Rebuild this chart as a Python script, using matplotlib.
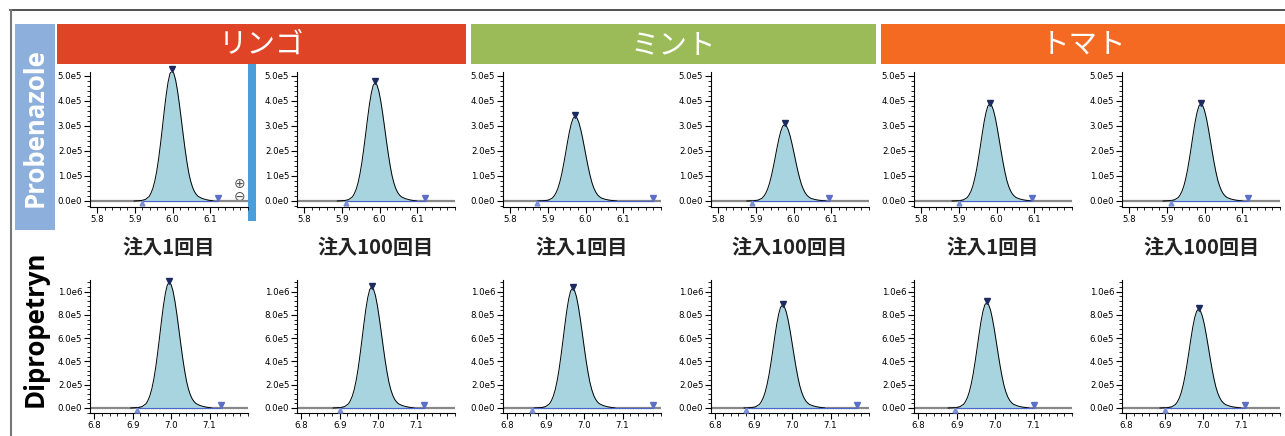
import matplotlib
matplotlib.use("Agg")
import matplotlib.pyplot as plt
from matplotlib.patches import Rectangle
from matplotlib.ticker import MultipleLocator, FuncFormatter

W, H = 1285, 436

# --- data ---
matrices = ["リンゴ", "ミント", "トマト"]
matrix_colors = ["#E04427", "#9BBB59", "#F46A22"]
injections = ["注入1回目", "注入100回目"]
compounds = ["Probenazole", "Dipropetryn"]

# peak profile shared by all panels (offset from apex in min, relative intensity)
profile_offset = [-0.10, -0.08, -0.07, -0.06, -0.055, -0.05, -0.045, -0.04, -0.035, -0.03,
                  -0.025, -0.02, -0.015, -0.01, -0.005, 0.0, 0.005, 0.01, 0.015, 0.02,
                  0.025, 0.03, 0.035, 0.04, 0.045, 0.05, 0.055, 0.06, 0.065, 0.07,
                  0.08, 0.09, 0.10, 0.11]
profile_rel = [0.0, 0.004, 0.012, 0.035, 0.062, 0.10, 0.155, 0.23, 0.325, 0.44,
               0.565, 0.695, 0.815, 0.912, 0.978, 1.0, 0.982, 0.93, 0.848, 0.745,
               0.63, 0.512, 0.4, 0.3, 0.215, 0.152, 0.105, 0.072, 0.05, 0.035,
               0.02, 0.011, 0.005, 0.0]

# Probenazole (row 1): apex rt, apex height, integration start / end
probenazole_apex = [5.998, 5.988, 5.972, 5.976, 5.982, 5.990]
probenazole_height = [5.2e5, 4.72e5, 3.38e5, 3.05e5, 3.88e5, 3.88e5]
probenazole_start = [5.92, 5.91, 5.87, 5.89, 5.90, 5.91]
probenazole_end = [6.12, 6.12, 6.18, 6.095, 6.095, 6.115]

# Dipropetryn (row 2)
dipropetryn_apex = [6.995, 6.983, 6.970, 6.975, 6.978, 6.988]
dipropetryn_height = [1.08e6, 1.04e6, 1.03e6, 0.885e6, 0.905e6, 0.85e6]
dipropetryn_start = [6.91, 6.90, 6.865, 6.88, 6.895, 6.90]
dipropetryn_end = [7.13, 7.12, 7.18, 7.17, 7.10, 7.11]

rows = [
    dict(apex=probenazole_apex, height=probenazole_height, start=probenazole_start,
         end=probenazole_end, xlim=(5.781, 6.2), ylim=(-2.4e4, 5.15e5),
         xticks=[5.8, 5.9, 6.0, 6.1], ymaj=1e5, ymin=2e4, top=72, bottom=207),
    dict(apex=dipropetryn_apex, height=dipropetryn_height, start=dipropetryn_start,
         end=dipropetryn_end, xlim=(6.789, 7.2), ylim=(-4.3e4, 1.1e6),
         xticks=[6.8, 6.9, 7.0, 7.1], ymaj=2e5, ymin=4e4, top=280, bottom=413),
]

col_left = [90, 297, 503, 711, 914, 1122]
col_width = 158


def sci(v, pos):
    if abs(v) < 1e-9:
        return "0.0e0"
    e = len(str(int(abs(v)))) - 1
    return f"{v / 10 ** e:.1f}e{e}"


def box(x0, y0, x1, y1):
    return [x0 / W, 1 - y1 / H, (x1 - x0) / W, (y1 - y0) / H]


fig = plt.figure(figsize=(W / 100, H / 100), dpi=100)

# background layer in pixel coordinates
bg = fig.add_axes([0, 0, 1, 1])
bg.set_xlim(0, W)
bg.set_ylim(H, 0)
bg.axis("off")

bg.plot([10, W], [10.5, 10.5], color="#333333", lw=1.2)
bg.plot([10.5, 10.5], [10, H], color="#777777", lw=1.5)

bar_x = [(57, 466), (471, 876), (881, 1285)]
for (x0, x1), name, c in zip(bar_x, matrices, matrix_colors):
    bg.add_patch(Rectangle((x0, 24), x1 - x0, 40, color=c, lw=0))
    bg.text((x0 + x1) / 2, 45, name, color="white", fontsize=20.5,
            family=["Noto Sans CJK JP", "DejaVu Sans"], ha="center", va="center")

bg.add_patch(Rectangle((15, 24), 40, 206, color="#8DAFDC", lw=0))
bg.text(35, 128, compounds[0], color="white", fontsize=18.5, family="Open Sans",
        weight="bold", rotation=90, ha="center", va="center")
bg.text(35, 329, compounds[1], color="black", fontsize=18.5, family="Open Sans",
        weight="bold", rotation=90, ha="center", va="center")

for i, left in enumerate(col_left):
    bg.text(left + col_width / 2, 247, injections[i % 2], fontsize=14.5, color="#222222",
            family=["Noto Sans CJK JP", "DejaVu Sans"], weight="bold",
            ha="center", va="center")

for r, row in enumerate(rows):
    for i, left in enumerate(col_left):
        ax = fig.add_axes(box(left, row["top"], left + col_width, row["bottom"]))
        apex = row["apex"][i]
        h = row["height"][i]
        x0, x1 = row["xlim"]
        xs = [apex + o for o in profile_offset]
        ys = [h * v for v in profile_rel]

        ax.plot([x0, x1], [0, 0], color="#888888", lw=1.6, zorder=1)
        ax.fill_between(xs, 0, ys, color="#A8D4E0", lw=0, zorder=2)
        ax.plot(xs, ys, color="black", lw=0.7, zorder=3)
        ax.plot([row["start"][i], row["end"][i]], [0, 0], color="#4A63C8", lw=0.8, zorder=3)

        ymax = row["ylim"][1]
        ax.plot(apex, h + 0.01 * ymax, marker="v", color="#1C2A60", ms=4.5, zorder=4,
                clip_on=False)
        ax.plot(row["start"][i], -0.012 * ymax, marker="^", color="#7B8FD6", ms=3.5,
                zorder=4, clip_on=False)
        ax.plot(row["end"][i], 0.025 * ymax, marker="v", color="#5B6FC8", ms=4, zorder=4,
                clip_on=False)

        ax.set_xlim(x0, x1)
        ax.set_xticks(row["xticks"])
        ax.xaxis.set_minor_locator(MultipleLocator(0.02))
        ax.yaxis.set_major_locator(MultipleLocator(row["ymaj"]))
        ax.yaxis.set_minor_locator(MultipleLocator(row["ymin"]))
        ax.set_ylim(*row["ylim"])
        ax.yaxis.set_major_formatter(FuncFormatter(sci))
        ax.xaxis.set_major_formatter(FuncFormatter(lambda v, p: f"{v:.1f}"))
        ax.tick_params(which="major", length=4, width=0.8, labelsize=6.2, pad=1.5)
        ax.tick_params(which="minor", length=2.5, width=0.6)
        for s in ["top", "right"]:
            ax.spines[s].set_visible(False)
        for s in ["left", "bottom"]:
            ax.spines[s].set_linewidth(0.8)
        ax.patch.set_alpha(0)

# scroll bar and zoom icons left over from the software screenshot
bg.add_patch(Rectangle((248, 64), 8, 157, color="#4A9ED9", lw=0, zorder=5))
bg.text(240, 184, "⊕", fontsize=10, color="#555555", ha="center", va="center")
bg.text(240, 197, "⊖", fontsize=10, color="#555555", ha="center", va="center")

fig.savefig("out.png", dpi=100)
